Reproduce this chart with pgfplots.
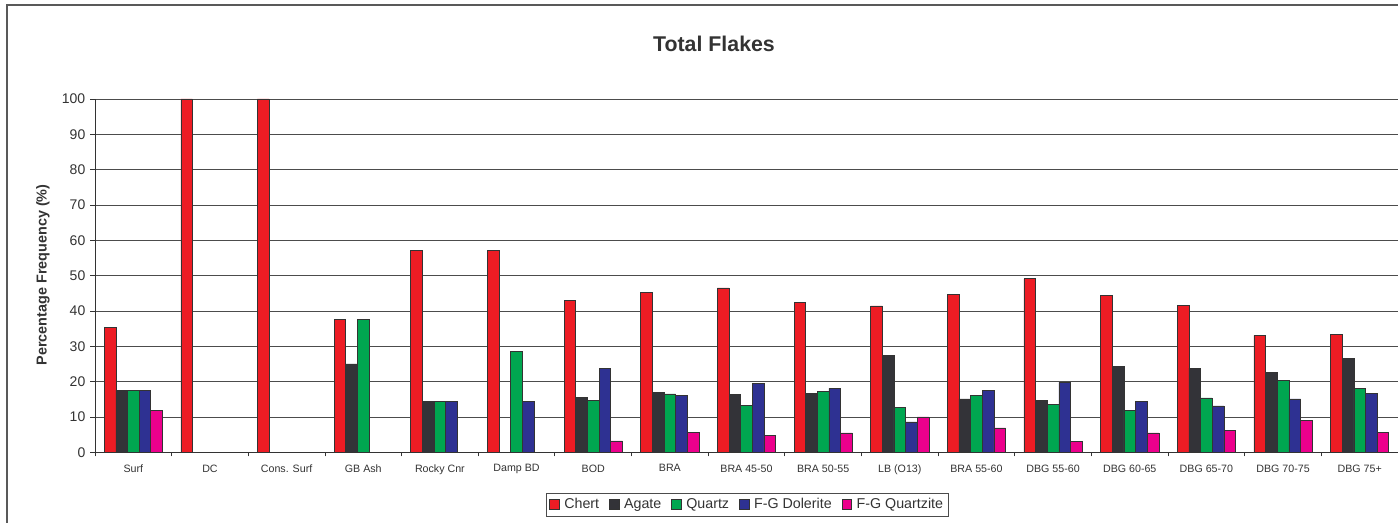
\documentclass[border=0pt]{standalone}
\usepackage{pgfplots}
\pgfplotsset{compat=1.18}
\usepackage{pgfplotstable}
\usepackage{fontspec}
\setmainfont{Liberation Sans}
\definecolor{cchert}{HTML}{ED1C24}
\definecolor{cagate}{HTML}{333338}
\definecolor{cquartz}{HTML}{00A650}
\definecolor{cdol}{HTML}{2E3192}
\definecolor{cqtz}{HTML}{EC008C}
\definecolor{ctext}{HTML}{333333}
\pgfplotstableread{
idx chert agate quartz dol qtz
0 35.3 17.6 17.6 17.6 11.8
1 100 nan nan nan nan
2 100 nan nan nan nan
3 37.5 25.0 37.5 nan nan
4 57.1 14.3 14.3 14.3 nan
5 57.1 nan 28.6 14.3 nan
6 42.9 15.6 14.6 23.8 3.2
7 45.2 16.9 16.5 16.2 5.7
8 46.5 16.3 13.2 19.5 4.7
9 42.5 16.7 17.2 18.1 5.5
10 41.4 27.3 12.8 8.6 10.0
11 44.7 15.1 16.2 17.4 6.9
12 49.1 14.7 13.6 19.8 3.1
13 44.3 24.3 11.9 14.3 5.5
14 41.6 23.8 15.4 13.1 6.2
15 33.1 22.5 20.4 15.1 9.1
16 33.4 26.5 18.1 16.7 5.7
}\flakes
\begin{document}
\begin{tikzpicture}
\useasboundingbox (0,0) rectangle (1048.5pt,-392.25pt);
\draw[black!65, line width=1.1pt] (5.25pt,-392.25pt) -- (5.25pt,-3.75pt) -- (1048.5pt,-3.75pt);
\node[font=\bfseries\fontsize{16}{19}\selectfont, text=ctext] at (535.5pt,-33pt) {Total Flakes};
\begin{axis}[
  at={(71.25pt,-339.2pt)}, anchor=south west,
  scale only axis, width=977.25pt, height=265pt,
  ybar=0pt, bar width=0.152,
  xmin=-0.5, xmax=16.5, ymin=0, ymax=100,
  axis lines=left, axis line style={-, draw=black!80, line width=0.7pt},
  ytick={0,10,...,100},
  ymajorgrids, grid style={draw=black!70, line width=0.6pt},
  xtick={0,...,16},
  xticklabels={Surf, DC, Cons. Surf, GB Ash, Rocky Cnr, Damp BD, BOD, BRA, BRA 45-50, BRA 50-55, LB (O13), BRA 55-60, DBG 55-60, DBG 60-65, DBG 65-70, DBG 70-75, DBG 75+},
  minor xtick={-0.5,0.5,...,16.5},
  tick align=outside,
  major x tick style={draw=none},
  minor x tick style={draw=black!80, line width=0.6pt},
  minor tick length=3pt,
  major tick length=3.75pt,
  y tick style={draw=black!80, line width=0.6pt},
  /pgf/number format/assume math mode=true,
  yticklabel style={font=\fontsize{10.5}{12}\selectfont, text=ctext},
  xticklabel style={font=\fontsize{8}{10}\selectfont, yshift=-2pt, text=ctext},
  ylabel={Percentage Frequency (\%)},
  ylabel style={font=\bfseries\fontsize{10.8}{13}\selectfont, text=ctext, at={(axis description cs:-0.0399,0.502)}, anchor=center},
  every axis plot post/.append style={legend image code/.code={\draw[##1,draw=black!80,line width=0.5pt] (0pt,-3.6pt) rectangle (7.2pt,3.6pt);}},
  legend columns=-1,
  legend style={at={(axis description cs:0.5008,-0.1477)}, anchor=center, draw=black!70, line width=0.6pt,
     font=\fontsize{10.7}{12}\selectfont, text=ctext, inner sep=2pt,
     /tikz/every even column/.append style={column sep=5.5pt},
     /tikz/every odd column/.append style={column sep=1.5pt}},
]
\addplot[fill=cchert, draw=black!80, line width=0.5pt] table[x=idx, y=chert] {\flakes};
\addplot[fill=cagate, draw=black!80, line width=0.5pt] table[x=idx, y=agate] {\flakes};
\addplot[fill=cquartz, draw=black!80, line width=0.5pt] table[x=idx, y=quartz] {\flakes};
\addplot[fill=cdol, draw=black!80, line width=0.5pt] table[x=idx, y=dol] {\flakes};
\addplot[fill=cqtz, draw=black!80, line width=0.5pt] table[x=idx, y=qtz] {\flakes};
\legend{Chert, Agate, Quartz, F-G Dolerite, F-G Quartzite}
\end{axis}
\end{tikzpicture}
\end{document}
